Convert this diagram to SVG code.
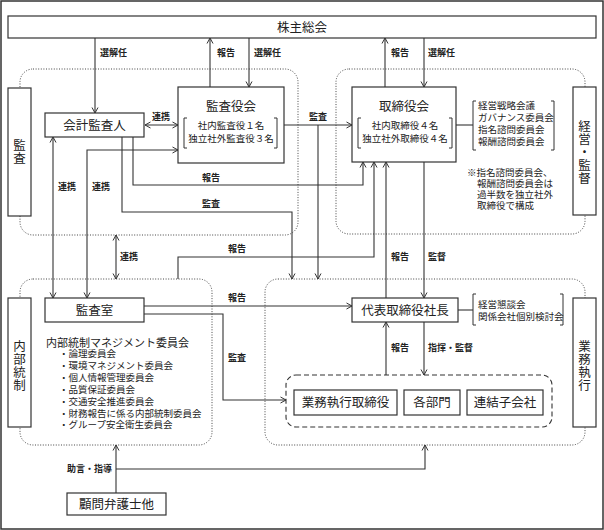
<svg xmlns="http://www.w3.org/2000/svg" width="604" height="530" viewBox="0 0 604 530">
<style>
.bx{fill:#fff;stroke:#333;stroke-width:1.2}
.reg{fill:none;stroke:#444;stroke-width:1;stroke-dasharray:1 1.6}
.dash{fill:none;stroke:#333;stroke-width:1.1;stroke-dasharray:5 3}
.ln{fill:none;stroke:#333;stroke-width:1.1}
.br{fill:none;stroke:#333;stroke-width:1}
text{font-family:"Noto Sans CJK JP","Noto Sans CJK SC",sans-serif;fill:#222}
.t{font-size:12.5px}
.v{font-size:12.5px;writing-mode:vertical-rl;letter-spacing:0.5px}
.s{font-size:9.5px}
.m{font-size:11px}
.l{font-size:9px;font-weight:bold}
</style>
<defs>
<marker id="a" markerWidth="8" markerHeight="8" refX="7" refY="4" orient="auto-start-reverse" markerUnits="userSpaceOnUse">
<path d="M1.5,1 L7,4 L1.5,7" fill="none" stroke="#333" stroke-width="1"/>
</marker>
</defs>
<rect x="1" y="1" width="602" height="528" fill="#fff" stroke="#333" stroke-width="1.5"/>
<g id="regions">
<rect class="reg" x="20" y="69" width="278" height="166" rx="13"/>
<rect class="reg" x="336" y="69" width="249" height="165" rx="13"/>
<rect class="reg" x="20" y="279" width="192" height="166" rx="13"/>
<rect class="reg" x="265" y="279" width="320" height="166" rx="13"/>
</g>
<g id="connectors">
<line class="ln" x1="95" y1="38" x2="95" y2="113" marker-end="url(#a)"/>
<line class="ln" x1="210" y1="87" x2="210" y2="38" marker-end="url(#a)"/>
<line class="ln" x1="249" y1="38" x2="249" y2="87" marker-end="url(#a)"/>
<line class="ln" x1="385" y1="87" x2="385" y2="38" marker-end="url(#a)"/>
<line class="ln" x1="424" y1="38" x2="424" y2="87" marker-end="url(#a)"/>
<line class="ln" x1="145" y1="125" x2="178" y2="125" marker-start="url(#a)" marker-end="url(#a)"/>
<line class="ln" x1="284" y1="125" x2="352" y2="125" marker-end="url(#a)"/>
<line class="ln" x1="318" y1="125" x2="318" y2="279" marker-end="url(#a)"/>
<polyline class="ln" points="87,298 87,150 178,150" marker-start="url(#a)" marker-end="url(#a)"/>
<line class="ln" x1="53" y1="137" x2="53" y2="298" marker-start="url(#a)" marker-end="url(#a)"/>
<polyline class="ln" points="133,137 133,185 363,185 363,162" marker-end="url(#a)"/>
<polyline class="ln" points="122,137 122,212 292,212 292,279" marker-end="url(#a)"/>
<polyline class="ln" points="178,279 178,257 374,257 374,162" marker-end="url(#a)"/>
<line class="ln" x1="386" y1="298" x2="386" y2="162" marker-end="url(#a)"/>
<line class="ln" x1="424" y1="162" x2="424" y2="298" marker-end="url(#a)"/>
<line class="ln" x1="116" y1="235" x2="116" y2="279" marker-start="url(#a)" marker-end="url(#a)"/>
<line class="ln" x1="144" y1="306" x2="352" y2="306" marker-end="url(#a)"/>
<polyline class="ln" points="144,314 223,314 223,400 286,400" marker-end="url(#a)"/>
<line class="ln" x1="386" y1="375" x2="386" y2="322" marker-end="url(#a)"/>
<line class="ln" x1="424" y1="322" x2="424" y2="375" marker-end="url(#a)"/>
<line class="ln" x1="116" y1="493" x2="116" y2="445" marker-end="url(#a)"/>
<polyline class="ln" points="116,469 425,469 425,445" marker-end="url(#a)"/>
<line class="ln" x1="456" y1="125" x2="473" y2="125"/>
<line class="ln" x1="458" y1="310" x2="473" y2="310"/>
</g>
<g id="labels">
<text class="l" x="100" y="56">選解任</text>
<text class="l" x="217" y="56">報告</text>
<text class="l" x="254" y="56">選解任</text>
<text class="l" x="391" y="56">報告</text>
<text class="l" x="428" y="56">選解任</text>
<text class="l" x="152" y="120">連携</text>
<text class="l" x="309" y="120">監査</text>
<text class="l" x="58" y="190">連携</text>
<text class="l" x="92" y="190">連携</text>
<text class="l" x="211" y="181" text-anchor="middle">報告</text>
<text class="l" x="211" y="207" text-anchor="middle">監査</text>
<text class="l" x="120" y="260">連携</text>
<text class="l" x="228" y="252">報告</text>
<text class="l" x="391" y="260">報告</text>
<text class="l" x="428" y="260">監督</text>
<text class="l" x="228" y="301">報告</text>
<text class="l" x="228" y="361">監査</text>
<text class="l" x="391" y="351">報告</text>
<text class="l" x="428" y="351">指揮・監督</text>
<text class="l" x="112" y="472" text-anchor="end">助言・指導</text>
</g>
<g id="shareholders">
<rect class="bx" x="8" y="16" width="588" height="22"/>
<text class="t" x="302" y="31.5" text-anchor="middle">株主総会</text>
</g>
<g id="kansa-side">
<rect class="bx" x="8" y="88" width="23" height="128"/>
<text class="v" x="19.5" y="152" text-anchor="middle">監査</text>
</g>
<g id="kaikei">
<rect class="bx" x="45" y="113" width="99" height="24"/>
<text class="t" x="94.5" y="129.5" text-anchor="middle">会計監査人</text>
</g>
<g id="kansayakukai">
<rect class="bx" x="178" y="87" width="106" height="76"/>
<text class="t" x="231" y="110.5" text-anchor="middle">監査役会</text>
<path class="br" d="M187,118 H184 V148 H187 M274,118 H277 V148 H274"/>
<text class="s" text-anchor="middle"><tspan x="231" y="128.5">社内監査役１名</tspan><tspan x="231" y="141.5">独立社外監査役３名</tspan></text>
</g>
<g id="torishimariyakukai">
<rect class="bx" x="352" y="87" width="104" height="75"/>
<text class="t" x="404" y="110.5" text-anchor="middle">取締役会</text>
<path class="br" d="M361,118 H358 V148 H361 M449,118 H452 V148 H449"/>
<text class="s" text-anchor="middle"><tspan x="405" y="128.5">社内取締役４名</tspan><tspan x="405" y="141.5">独立社外取締役４名</tspan></text>
</g>
<g id="committees">
<path class="br" d="M476,101 H473 V150 H476 M551,101 H554 V150 H551"/>
<text class="s"><tspan x="478" y="109">経営戦略会議</tspan><tspan x="478" y="121">ガバナンス委員会</tspan><tspan x="478" y="133">指名諮問委員会</tspan><tspan x="478" y="145">報酬諮問委員会</tspan></text>
</g>
<g id="note">
<text class="s"><tspan x="467" y="176">※指名諮問委員会、</tspan><tspan x="477" y="187">報酬諮問委員会は</tspan><tspan x="477" y="198">過半数を独立社外</tspan><tspan x="477" y="209">取締役で構成</tspan></text>
</g>
<g id="keiei-side">
<rect class="bx" x="573" y="87" width="23" height="128"/>
<text class="v" x="584.5" y="152" text-anchor="middle">経営・監督</text>
</g>
<g id="naibu-side">
<rect class="bx" x="8" y="298" width="23" height="129"/>
<text class="v" x="19.5" y="366" text-anchor="middle">内部統制</text>
</g>
<g id="kansashitsu">
<rect class="bx" x="45" y="298" width="99" height="24"/>
<text class="t" x="94.5" y="314.5" text-anchor="middle">監査室</text>
</g>
<g id="naibu-committees">
<text class="s"><tspan class="m" x="46" y="347">内部統制マネジメント委員会</tspan><tspan x="59" y="357">・論理委員会</tspan><tspan x="59" y="369">・環境マネジメント委員会</tspan><tspan x="59" y="381">・個人情報管理委員会</tspan><tspan x="59" y="393">・品質保証委員会</tspan><tspan x="59" y="404.5">・交通安全推進委員会</tspan><tspan x="59" y="416.5">・財務報告に係る内部統制委員会</tspan><tspan x="59" y="428">・グループ安全衛生委員会</tspan></text>
</g>
<g id="president">
<rect class="bx" x="352" y="298" width="106" height="24"/>
<text class="t" x="405" y="314.5" text-anchor="middle">代表取締役社長</text>
</g>
<g id="president-meetings">
<path class="br" d="M476,294 H473 V325 H476 M560,294 H563 V325 H560"/>
<text class="s"><tspan x="478" y="308">経営懇談会</tspan><tspan x="478" y="320">関係会社個別検討会</tspan></text>
</g>
<g id="gyomu-side">
<rect class="bx" x="573" y="298" width="23" height="129"/>
<text class="v" x="584.5" y="366" text-anchor="middle">業務執行</text>
</g>
<g id="exec-group">
<rect class="dash" x="286" y="375" width="266" height="52" rx="10"/>
</g>
<g id="gyomu-torishimariyaku">
<rect class="bx" x="294" y="390" width="103" height="25"/>
<text class="t" x="345.5" y="407" text-anchor="middle">業務執行取締役</text>
</g>
<g id="kakubumon">
<rect class="bx" x="404" y="390" width="56" height="25"/>
<text class="t" x="432" y="407" text-anchor="middle">各部門</text>
</g>
<g id="renketsu">
<rect class="bx" x="467" y="390" width="76" height="25"/>
<text class="t" x="505" y="407" text-anchor="middle">連結子会社</text>
</g>
<g id="komon">
<rect class="bx" x="67" y="493" width="99" height="22"/>
<text class="t" x="116.5" y="508.5" text-anchor="middle">顧問弁護士他</text>
</g>
</svg>
